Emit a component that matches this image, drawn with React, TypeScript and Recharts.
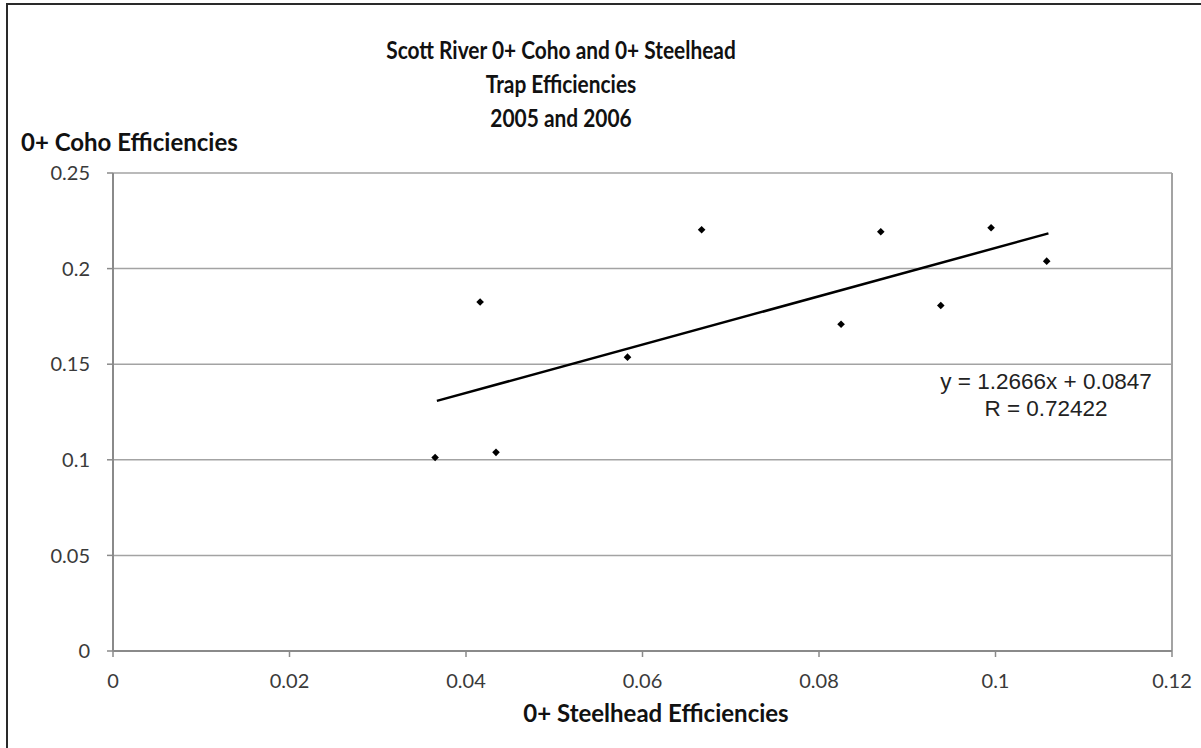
import { ScatterChart, Scatter, XAxis, YAxis, CartesianGrid, ReferenceLine } from "recharts";

const steelheadEff = [0.0365, 0.0416, 0.0434, 0.0583, 0.0667, 0.0825, 0.087, 0.0938, 0.0995, 0.1058];
const cohoEff = [0.1012, 0.1825, 0.1039, 0.1537, 0.2203, 0.1709, 0.2193, 0.1807, 0.2214, 0.2039];
const trendX = [0.0367, 0.106];
const trendY = [0.1308, 0.2184];
const xTicks = [0, 0.02, 0.04, 0.06, 0.08, 0.1, 0.12];
const yTicks = [0, 0.05, 0.1, 0.15, 0.2, 0.25];
const titleLines = ["Scott River 0+ Coho and 0+ Steelhead", "Trap Efficiencies", "2005 and 2006"];
const equationLines = ["y = 1.2666x + 0.0847", "R = 0.72422"];

const points = steelheadEff.map((x, i) => ({ x, y: cohoEff[i] }));
const trend = trendX.map((x, i) => ({ x, y: trendY[i] }));

const calibri = "Lato, 'Open Sans', sans-serif";
const arial = "'Liberation Sans', Arial, sans-serif";

const Diamond = (props: any) => {
  const { cx, cy } = props;
  if (cx == null || cy == null) return <g />;
  const r = 3.8;
  return <path d={`M${cx},${cy - r}L${cx + r},${cy}L${cx},${cy + r}L${cx - r},${cy}Z`} fill="#000" />;
};

const centered = (cx: number, cy: number, lh: number, w = 600): any => ({
  position: "absolute",
  left: cx - w / 2,
  width: w,
  top: cy - lh / 2,
  height: lh,
  lineHeight: `${lh}px`,
  textAlign: "center",
  whiteSpace: "nowrap",
});

export default function App() {
  return (
    <div style={{ position: "fixed", left: 0, top: 0, width: 1201, height: 748, background: "#fff", overflow: "hidden" }}>
      <ScatterChart width={1201} height={748} margin={{ top: 173, right: 29, bottom: 0, left: 0 }}>
        <CartesianGrid vertical={false} stroke="#a3a3a3" strokeWidth={1.5} />
        <XAxis
          type="number"
          dataKey="x"
          domain={[0, 0.12]}
          ticks={xTicks}
          height={97}
          axisLine={{ stroke: "#8a8a8a", strokeWidth: 2 }}
          tickLine={{ stroke: "#8a8a8a", strokeWidth: 1.5 }}
          tickSize={6}
          tickMargin={17}
          tick={{ fill: "#3a3a3a", fontSize: 20, fontFamily: calibri }}
          tickFormatter={(v: number) => String(v)}
          allowDataOverflow
        />
        <YAxis
          type="number"
          dataKey="y"
          domain={[0, 0.25]}
          ticks={yTicks}
          width={113}
          axisLine={{ stroke: "#8a8a8a", strokeWidth: 2 }}
          tickLine={{ stroke: "#8a8a8a", strokeWidth: 1.5 }}
          tickSize={6}
          tickMargin={17}
          tick={{ fill: "#3a3a3a", fontSize: 20, fontFamily: calibri }}
          tickFormatter={(v: number) => String(v)}
          allowDataOverflow
        />
        <ReferenceLine x={0.12} stroke="#a3a3a3" strokeWidth={2} ifOverflow="extendDomain" />
        <Scatter data={points} shape={<Diamond />} isAnimationActive={false} />
        <Scatter
          data={trend}
          line={{ stroke: "#000", strokeWidth: 2.5 }}
          shape={() => <g />}
          isAnimationActive={false}
        />
      </ScatterChart>

      <div style={{ position: "absolute", left: 6, top: 3, right: 0, bottom: 0, borderLeft: "2px solid #2a2a2a", borderTop: "2px solid #2a2a2a", pointerEvents: "none" }} />

      {titleLines.map((t, i) => (
        <div
          key={t}
          style={{
            ...centered(561, 50 + i * 34, 32),
            fontFamily: calibri,
            fontWeight: 700,
            fontSize: 24,
            color: "#111",
            transform: "scaleX(0.87)",
          }}
        >
          {t}
        </div>
      ))}
      <div style={{ position: "absolute", left: 21, top: 128, lineHeight: "28px", fontFamily: calibri, fontWeight: 700, fontSize: 24, color: "#111", whiteSpace: "nowrap" }}>
        0+ Coho Efficiencies
      </div>
      <div style={{ ...centered(656, 713, 28), fontFamily: calibri, fontWeight: 700, fontSize: 24, color: "#111" }}>
        0+ Steelhead Efficiencies
      </div>
      {equationLines.map((t, i) => (
        <div key={t} style={{ ...centered(1046, 382 + i * 27, 26, 300), fontFamily: arial, fontSize: 22.5, color: "#222" }}>
          {t}
        </div>
      ))}
    </div>
  );
}
